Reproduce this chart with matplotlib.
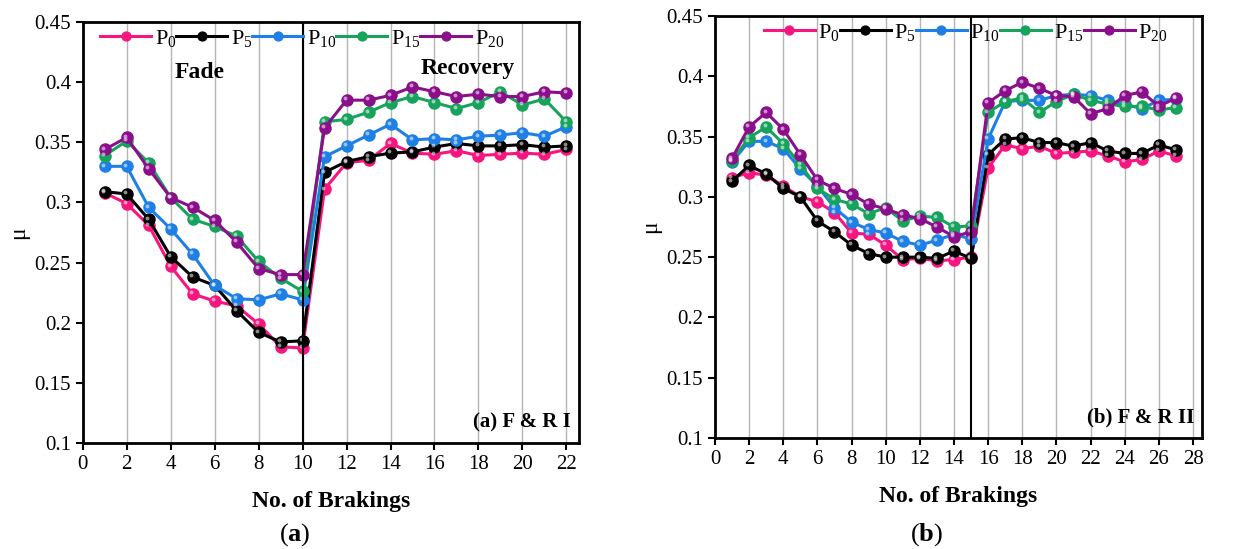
import matplotlib.pyplot as plt
import matplotlib.transforms as mtransforms
import numpy as np

plt.rcParams["font.family"] = ["Liberation Serif", "DejaVu Serif"]
plt.rcParams["mathtext.fontset"] = "custom"
plt.rcParams["mathtext.rm"] = "Liberation Serif"
plt.rcParams["mathtext.it"] = "Liberation Serif:italic"
plt.rcParams["mathtext.bf"] = "Liberation Serif:bold"

labels = ["P$_{0}$", "P$_{5}$", "P$_{10}$", "P$_{15}$", "P$_{20}$"]
colors = ["#f7157f", "#000000", "#1e7fe6", "#17a35c", "#8b0f8b"]

# (a) F & R I : brakings 1-22
xa = np.arange(1, 23)
a_p0 = [0.308, 0.299, 0.281, 0.247, 0.224, 0.218, 0.214, 0.199, 0.180, 0.179,
        0.311, 0.333, 0.335, 0.349, 0.341, 0.340, 0.343, 0.339, 0.340, 0.341, 0.340, 0.344]
a_p5 = [0.309, 0.307, 0.286, 0.255, 0.238, 0.231, 0.210, 0.192, 0.184, 0.185,
        0.325, 0.334, 0.338, 0.341, 0.342, 0.346, 0.349, 0.347, 0.347, 0.348, 0.346, 0.347]
a_p10 = [0.330, 0.330, 0.296, 0.278, 0.257, 0.231, 0.220, 0.219, 0.224, 0.219,
         0.338, 0.347, 0.356, 0.365, 0.352, 0.353, 0.352, 0.355, 0.356, 0.358, 0.355, 0.363]
a_p15 = [0.339, 0.351, 0.333, 0.304, 0.286, 0.280, 0.272, 0.251, 0.237, 0.226,
         0.367, 0.369, 0.375, 0.383, 0.388, 0.383, 0.378, 0.383, 0.392, 0.381, 0.386, 0.367]
a_p20 = [0.344, 0.354, 0.328, 0.304, 0.296, 0.285, 0.267, 0.245, 0.240, 0.240,
         0.362, 0.385, 0.385, 0.389, 0.396, 0.392, 0.388, 0.390, 0.388, 0.388, 0.392, 0.391]

# (b) F & R II : brakings 1-27
xb = np.arange(1, 28)
b_p0 = [0.316, 0.320, 0.318, 0.309, 0.300, 0.296, 0.287, 0.270, 0.269, 0.260, 0.248, 0.249, 0.247, 0.248, 0.250,
        0.324, 0.343, 0.340, 0.342, 0.336, 0.337, 0.338, 0.334, 0.329, 0.331, 0.338, 0.334]
b_p5 = [0.313, 0.326, 0.319, 0.307, 0.300, 0.280, 0.271, 0.260, 0.253, 0.250, 0.250, 0.250, 0.249, 0.255, 0.249,
        0.335, 0.348, 0.349, 0.345, 0.345, 0.342, 0.345, 0.338, 0.336, 0.336, 0.343, 0.339]
b_p10 = [0.329, 0.346, 0.346, 0.340, 0.323, 0.309, 0.291, 0.279, 0.273, 0.270, 0.263, 0.260, 0.264, 0.269, 0.265,
         0.348, 0.379, 0.380, 0.380, 0.384, 0.385, 0.384, 0.380, 0.377, 0.373, 0.380, 0.381]
b_p15 = [0.330, 0.349, 0.358, 0.344, 0.327, 0.307, 0.298, 0.294, 0.286, 0.291, 0.280, 0.284, 0.283, 0.275, 0.276,
         0.370, 0.379, 0.382, 0.370, 0.379, 0.385, 0.380, 0.377, 0.375, 0.375, 0.372, 0.374]
b_p20 = [0.332, 0.358, 0.370, 0.356, 0.335, 0.314, 0.307, 0.302, 0.294, 0.290, 0.285, 0.282, 0.275, 0.267, 0.271,
         0.378, 0.388, 0.395, 0.390, 0.384, 0.383, 0.369, 0.373, 0.384, 0.387, 0.375, 0.382]

fig = plt.figure(figsize=(12.4, 5.49), dpi=100)
ax1 = fig.add_axes([0.0667, 0.193, 0.400, 0.767])
ax2 = fig.add_axes([0.5766, 0.202, 0.3928, 0.769])


def draw(ax, x, series, split, xmax, xticks, tag, legx):
    ax.grid(axis="x", color="#b5b5b5", lw=1.0, zorder=0)
    ax.axvline(split, color="k", lw=1.5, zorder=4)
    shine = mtransforms.offset_copy(ax.transData, fig=fig, x=-1.2, y=1.2, units="points")
    handles = []
    for y, lab, c in zip(series, labels, colors):
        h, = ax.plot(x, y, "-o", color=c, lw=2.2, ms=8, mfc=c, mec=c,
                     label=lab, zorder=3)
        ax.plot(x, y, "o", color="white", ms=2.8, mew=0, alpha=0.55,
                transform=shine, zorder=3.5)
        handles.append(h)
    ax.set_xlim(0, xmax)
    ax.set_ylim(0.1, 0.45)
    ax.set_xticks(xticks)
    ax.set_yticks([0.1, 0.15, 0.2, 0.25, 0.3, 0.35, 0.4, 0.45])
    ax.set_yticklabels(["0.1", "0.15", "0.2", "0.25", "0.3", "0.35", "0.4", "0.45"])
    ax.tick_params(direction="out", length=5, width=1.5, labelsize=15)
    for s in ax.spines.values():
        s.set_linewidth(2)
    ax.set_xlabel("No. of Brakings", fontsize=17, fontweight="bold", labelpad=12)
    ax.set_ylabel("μ", fontsize=17)
    leg = ax.legend(handles=handles, loc="upper left", ncol=5, frameon=False, fontsize=16,
                    handlelength=2.3, handletextpad=0.15, columnspacing=0.0,
                    markerscale=0.8, borderaxespad=0.0, borderpad=0.0,
                    bbox_to_anchor=(legx, 0.985))
    ax.text(0.985, 0.025, f"({tag}) F & R " + ("I" if tag == "a" else "II"),
            transform=ax.transAxes, ha="right", va="bottom",
            fontsize=15, fontweight="bold")


draw(ax1, xa, [a_p0, a_p5, a_p10, a_p15, a_p20], 10, 22.56, range(0, 23, 2), "a", 0.035)
draw(ax2, xb, [b_p0, b_p5, b_p10, b_p15, b_p20], 15, 28.53, range(0, 29, 2), "b", 0.1)

ax1.text(5.3, 0.408, "Fade", ha="center", va="center", fontsize=17, fontweight="bold")
ax1.text(17.5, 0.411, "Recovery", ha="center", va="center", fontsize=17, fontweight="bold")

fig.text(295 / 1240, 1 - 535 / 549, r"($\mathbf{a}$)", ha="center", va="center", fontsize=19)
fig.text(927 / 1240, 1 - 535 / 549, r"($\mathbf{b}$)", ha="center", va="center", fontsize=19)

fig.savefig("out.png", dpi=100)
